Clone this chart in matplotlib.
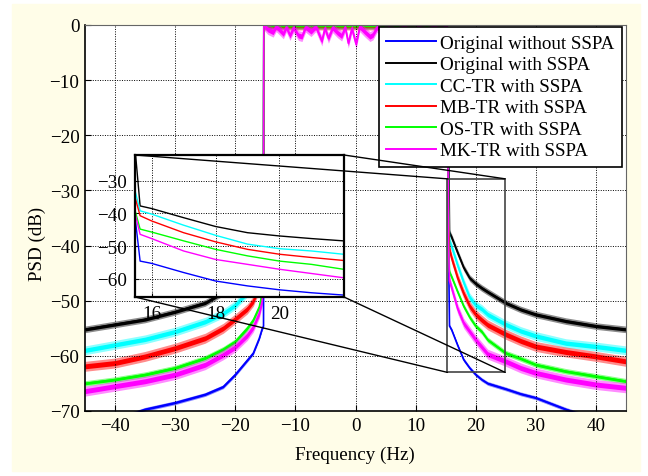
import numpy as np
import matplotlib.pyplot as plt
from matplotlib.patches import Rectangle, ConnectionPatch
from matplotlib.lines import Line2D

plt.rcParams['font.family'] = ['Liberation Serif', 'DejaVu Serif']
plt.rcParams['font.size'] = 13.7

# ---- spectra (dB), read per band ----
left_f = [-45, -40, -35, -30, -25, -22, -20, -18, -17, -16, -15.5, -15.3, -15.25]
right_f = [15.25, 15.48, 15.64, 16, 17, 18, 19, 20, 21, 22, 25, 27.5, 30, 35, 40, 45]

blue_left = [-73.0, -71.5, -69.7, -68.5, -67.0, -65.6, -63.4, -60.8, -59.5, -56.8, -55.0, -54.6, 0]
black_left = [-55.2, -54.3, -53.4, -52.0, -50.4, -48.5, -47.2, -45.0, -43.5, -41.5, -39.0, -30.0, 0]
cyan_left = [-59.0, -58.0, -57.0, -55.6, -53.8, -52.3, -50.8, -48.5, -47.0, -44.5, -41.0, -33.0, 0]
red_left = [-61.9, -61.3, -60.1, -58.6, -56.8, -55.0, -53.3, -51.5, -50.1, -47.5, -44.0, -35.0, 0]
green_left = [-65.0, -64.3, -63.4, -62.2, -60.4, -58.8, -57.4, -55.0, -53.5, -51.1, -48.5, -39.0, 0]
magenta_left = [-66.4, -65.5, -64.6, -63.4, -61.6, -59.8, -58.4, -56.3, -54.8, -52.3, -50.0, -40.0, 0]

blue_right = [0, -41, -54.6, -55.3, -58.1, -60.7, -62.2, -63.4, -64.3, -65.0, -66.0, -66.9, -67.6, -69.7, -71.5, -73.0]
black_right = [0, -20, -37.7, -38.5, -41.3, -44.0, -45.9, -46.9, -47.7, -48.4, -50.4, -51.6, -52.5, -53.7, -54.6, -55.2]
cyan_right = [0, -33, -39.2, -40.2, -43.6, -46.7, -49.4, -50.8, -51.5, -52.5, -54.3, -55.5, -56.4, -57.7, -58.3, -59.0]
red_right = [0, -35, -40.7, -42.3, -45.9, -48.7, -51.0, -52.5, -53.5, -54.4, -56.1, -57.3, -58.3, -59.3, -60.1, -61.0]
green_right = [0, -39, -44.8, -45.7, -48.4, -51.0, -53.0, -54.6, -55.6, -57.1, -59.5, -60.5, -61.6, -62.8, -63.7, -64.6]
magenta_right = [0, -40, -46.4, -47.7, -51.5, -54.1, -55.6, -57.1, -58.4, -59.7, -61.0, -62.2, -63.1, -64.3, -65.2, -65.8]

# passband ripple of the MK-TR curve
pb_f = [-14.6, -13.7, -13.2, -12.0, -11.5, -10.9, -10.3, -9.5, -8.9, -8.3, -7.4, -6.6,
        -5.6, -5.1, -4.5, -3.8, -3.0, -2.3, -1.7, -1.2, -0.6, 0.1, 0.7, 1.5, 2.4, 2.9,
        3.6, 4.4, 5.5, 6.8, 8.0, 9.3, 10.5, 11.8, 13.0, 14.2]
pb_db = [-0.8, -1.3, -0.3, -1.6, -0.4, -1.9, -0.5, -1.9, -2.1, -0.4, -1.2, -0.3,
         -2.9, -0.6, -2.4, -0.5, -1.4, -2.0, -0.4, -3.3, -0.6, -3.5, -0.3, -1.2, -2.1, -1.8,
         -0.4, -1.3, -0.5, -1.4, -0.3, -1.1, -0.4, -1.2, -0.3, -1.0]

labels = ['Original without SSPA', 'Original with SSPA', 'CC-TR with SSPA',
          'MB-TR with SSPA', 'OS-TR with SSPA', 'MK-TR with SSPA']
colors = ['#0000ff', '#000000', '#00ffff', '#ff0000', '#00ff00', '#ff00ff']
spread = [0.35, 0.6, 0.8, 0.9, 0.5, 0.9]   # half width of noisy band

series = []
for lo, hi, mid in [(blue_left, blue_right, []), (black_left, black_right, []),
                    (cyan_left, cyan_right, []), (red_left, red_right, []),
                    (green_left, green_right, []), (magenta_left, magenta_right, pb_db)]:
    ff = left_f + (pb_f if mid else []) + right_f
    yy = lo + list(mid) + hi
    series.append((np.array(ff), np.array(yy)))

fig = plt.figure(figsize=(6.48, 4.77), dpi=100)
fig.add_artist(Rectangle((12 / 648, 5 / 477), 628 / 648, 467 / 477,
                         transform=fig.transFigure, color='#fffde8', zorder=-5))

ax = fig.add_axes([85 / 648, 65 / 477, 541 / 648, 386 / 477])
ax.set_facecolor('white')

for (ff, yy), c, s in zip(series, colors, spread):
    ax.fill_between(ff, yy - s, yy + s, color=c, alpha=0.45, lw=0)
    ax.fill_between(ff, yy - s / 2, yy + s / 2, color=c, lw=0)
    ax.plot(ff, yy, color=c, lw=1.2)

ax.set_xlim(-45, 45)
ax.set_ylim(-70, 0)
ax.set_xticks(np.arange(-40, 41, 10))
ax.set_yticks(np.arange(-70, 1, 10))
ax.grid(True, linestyle=(0, (1, 1.5)), color='black', linewidth=0.7)
ax.tick_params(direction='in', length=4, pad=4)
for side in ['left', 'bottom']:
    ax.spines[side].set_linewidth(1.2)
for side in ['top', 'right']:
    ax.spines[side].set_color('#666666')
    ax.spines[side].set_linewidth(0.8)

fig.text(355 / 648, 1 - 455 / 477, 'Frequency (Hz)', ha='center', va='center')
fig.text(37 / 648, 1 - 244 / 477, 'PSD (dB)', ha='center', va='center', rotation=90)

handles = [Line2D([], [], color=c, lw=1.4) for c in colors]
leg = ax.legend(handles, labels, loc='upper right', bbox_to_anchor=(0.9926, 0.9948),
                borderaxespad=0, fancybox=False, framealpha=1, edgecolor='black',
                handlelength=2.6, handletextpad=0.22, borderpad=0.4, labelspacing=0.22)
leg.get_frame().set_linewidth(1.2)
leg.set_zorder(10)

# zoom box on the right skirt
rx0, rx1, ry0, ry1 = 15.3, 24.9, -63.0, -27.9
ax.add_patch(Rectangle((rx0, ry0), rx1 - rx0, ry1 - ry0, fill=False,
                       edgecolor='#444444', lw=1.2, zorder=5))

axin = fig.add_axes([135 / 648, 179 / 477, 209 / 648, 142 / 477])
for (ff, yy), c in zip(series, colors):
    axin.plot(ff, yy, color=c, lw=1.0)
axin.set_xlim(15.48, 22.02)
axin.set_ylim(-65.6, -22.1)
axin.set_xticks([16, 18, 20])
axin.set_yticks([-60, -50, -40, -30])
axin.grid(True, linestyle=(0, (1, 1.5)), color='black', linewidth=0.7)
axin.tick_params(direction='in', length=3, pad=6)
for sp in axin.spines.values():
    sp.set_linewidth(1.6)

for (ia, ib) in [((0, 1), (rx0, ry1)), ((1, 1), (rx1, ry1)),
                 ((0, 0), (rx0, ry0)), ((1, 0), (rx1, ry0))]:
    con = ConnectionPatch(xyA=ia, coordsA=axin.transAxes, xyB=ib, coordsB=ax.transData,
                          color='black', lw=1.0, zorder=20)
    fig.add_artist(con)

fig.savefig('out.png', dpi=100)
